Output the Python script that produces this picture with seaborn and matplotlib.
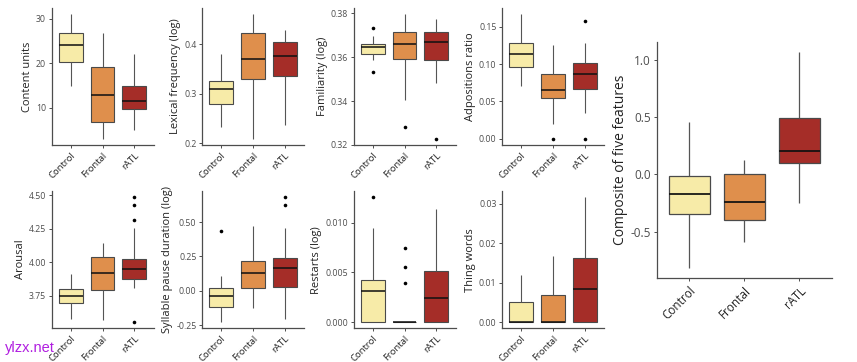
import numpy as np
import pandas as pd
import matplotlib
matplotlib.use("Agg")
import matplotlib.pyplot as plt
import seaborn as sns

groups = ["Control", "Frontal", "rATL"]
colors = ["#F7EBA8", "#DF8F4C", "#A52D28"]

# Five-number values per group: [whisker low, Q1, median, Q3, whisker high]
content_units = [[15.0, 20.2, 24.0, 26.9, 31.0], [3.1, 6.9, 13.0, 19.2, 26.8], [5.0, 9.7, 11.5, 14.9, 22.0]]
content_units_out = [[], [], []]

lexical_freq = [[0.232, 0.279, 0.309, 0.326, 0.380], [0.209, 0.329, 0.370, 0.424, 0.461], [0.237, 0.337, 0.376, 0.405, 0.430]]
lexical_freq_out = [[], [], []]

familiarity = [[0.3586, 0.3615, 0.3646, 0.3661, 0.3696], [0.3406, 0.3589, 0.3661, 0.3714, 0.3795], [0.3484, 0.3588, 0.3669, 0.3712, 0.3773]]
familiarity_out = [[0.3734, 0.3530], [0.3282], [0.3229]]

adpositions = [[0.0701, 0.0964, 0.1138, 0.1278, 0.1666], [0.0193, 0.0540, 0.0656, 0.0866, 0.1250], [0.0344, 0.0661, 0.0862, 0.1009, 0.1280]]
adpositions_out = [[], [0.0], [0.158, 0.0]]

arousal = [[3.574, 3.698, 3.752, 3.800, 3.911], [3.572, 3.790, 3.923, 4.040, 4.144], [3.807, 3.876, 3.953, 4.027, 4.252]]
arousal_out = [[], [], [4.485, 4.428, 4.317, 3.554]]

pause_dur = [[-0.227, -0.121, -0.041, 0.019, 0.111], [-0.125, 0.019, 0.128, 0.215, 0.473], [-0.203, 0.029, 0.164, 0.241, 0.458]]
pause_dur_out = [[0.437], [], [0.680, 0.620]]

restarts = [[0.0, 0.0, 0.00310, 0.00421, 0.00953], [0.0, 0.0, 0.0, 0.0, 0.0], [0.0, 0.0, 0.00242, 0.00515, 0.01141]]
restarts_out = [[0.01259], [0.00747, 0.00557, 0.00397], []]

thing_words = [[0.0, 0.0, 0.0, 0.00497, 0.01196], [0.0, 0.0, 0.0, 0.00682, 0.01677], [0.0, 0.0, 0.00826, 0.01634, 0.0316]]
thing_words_out = [[], [], []]

composite = [[-0.813, -0.345, -0.167, -0.015, 0.453], [-0.591, -0.395, -0.243, 0.003, 0.126], [-0.254, 0.096, 0.208, 0.488, 1.064]]
composite_out = [[], [], []]

panels = [
    ("Content units", content_units, content_units_out, [10, 20, 30], ["10", "20", "30"]),
    ("Lexical frequency (log)", lexical_freq, lexical_freq_out, [0.2, 0.3, 0.4], ["0.2", "0.3", "0.4"]),
    ("Familiarity (log)", familiarity, familiarity_out, [0.32, 0.34, 0.36, 0.38], ["0.32", "0.34", "0.36", "0.38"]),
    ("Adpositions ratio", adpositions, adpositions_out, [0, 0.05, 0.10, 0.15], ["0.00", "0.05", "0.10", "0.15"]),
    ("Arousal", arousal, arousal_out, [3.75, 4.0, 4.25, 4.5], ["3.75", "4.00", "4.25", "4.50"]),
    ("Syllable pause duration (log)", pause_dur, pause_dur_out, [-0.25, 0, 0.25, 0.5], ["-0.25", "0.00", "0.25", "0.50"]),
    ("Restarts (log)", restarts, restarts_out, [0, 0.005, 0.010], ["0.000", "0.005", "0.010"]),
    ("Thing words", thing_words, thing_words_out, [0, 0.01, 0.02, 0.03], ["0.00", "0.01", "0.02", "0.03"]),
]

sns.set_theme(style="ticks")
plt.rcParams["font.family"] = ["Open Sans", "DejaVu Sans"]

fig = plt.figure(figsize=(8.57, 3.62), dpi=100)

W = 102 / 857
lefts = [51.5 / 857, 202 / 857, 353.5 / 857, 502 / 857]
bottoms = [1 - 145 / 362, 1 - 328.3 / 362]
heights = [137 / 362, 137.3 / 362]


def draw(ax, title, vals, outs, ticks, ticklabels, ytick_fs, xtick_fs, title_fs, lw, dot):
    df = pd.DataFrame({
        "group": np.repeat(groups, [len(v) for v in vals]),
        "value": np.concatenate(vals),
    })
    sns.boxplot(data=df, x="group", y="value", hue="group", order=groups, hue_order=groups,
                palette=colors, legend=False, whis=(0, 100), showfliers=False, showcaps=False,
                width=0.75, linewidth=lw, linecolor="#4a4a4a",
                medianprops=dict(color="#111111", linewidth=lw * 1.4),
                whiskerprops=dict(color="#555555", linewidth=lw),
                saturation=1, ax=ax)
    og = [g for g, o in zip(groups, outs) for _ in o]
    ov = [x for o in outs for x in o]
    if ov:
        odf = pd.DataFrame({"group": og, "value": ov})
        sns.stripplot(data=odf, x="group", y="value", order=groups, jitter=False,
                      color="black", size=dot, ax=ax)
    allv = np.concatenate([np.concatenate(vals), np.array(ov, dtype=float)])
    lo, hi = allv.min(), allv.max()
    pad = (hi - lo) * 0.05
    ax.set_ylim(lo - pad, hi + pad)
    ax.set_xlim(-0.6, 2.6)
    ax.set_yticks(ticks)
    ax.set_yticklabels(ticklabels)
    ax.set_xticks(range(3))
    ax.set_xticklabels(groups, rotation=45, ha="right", rotation_mode="anchor")
    ax.set_xlabel("")
    ax.set_ylabel(title, fontsize=title_fs, color="#222222", labelpad=2)
    ax.tick_params(axis="y", labelsize=ytick_fs, labelcolor="#4d4d4d")
    ax.tick_params(axis="x", labelsize=xtick_fs, labelcolor="#222222")
    ax.tick_params(axis="both", color="#4d4d4d", length=2.5, width=0.7, pad=1.5)
    for s in ["left", "bottom"]:
        ax.spines[s].set_color("#4d4d4d")
        ax.spines[s].set_linewidth(0.9)
    sns.despine(ax=ax)
    ax.set_facecolor("white")


for i, (title, vals, outs, ticks, tl) in enumerate(panels):
    r, c = divmod(i, 4)
    ax = fig.add_axes([lefts[c], bottoms[r], W, heights[r]])
    draw(ax, title, vals, outs, ticks, tl, 6.3, 6.8, 8.0, 0.8, 2.6)

axb = fig.add_axes([656.5 / 857, 1 - 278.3 / 362, 175.5 / 857, 236.6 / 362])
draw(axb, "Composite of five features", composite, composite_out,
     [-0.5, 0, 0.5, 1.0], ["-0.5", "0.0", "0.5", "1.0"], 8.5, 8.5, 10.0, 0.9, 3.2)

fig.text(5 / 857, 1 - 348 / 362, "ylzx.net", color="#B01EE0", fontsize=10.5,
         va="center", ha="left", family=["Liberation Sans", "DejaVu Sans"])

fig.savefig("out.png", dpi=100, facecolor="white")
